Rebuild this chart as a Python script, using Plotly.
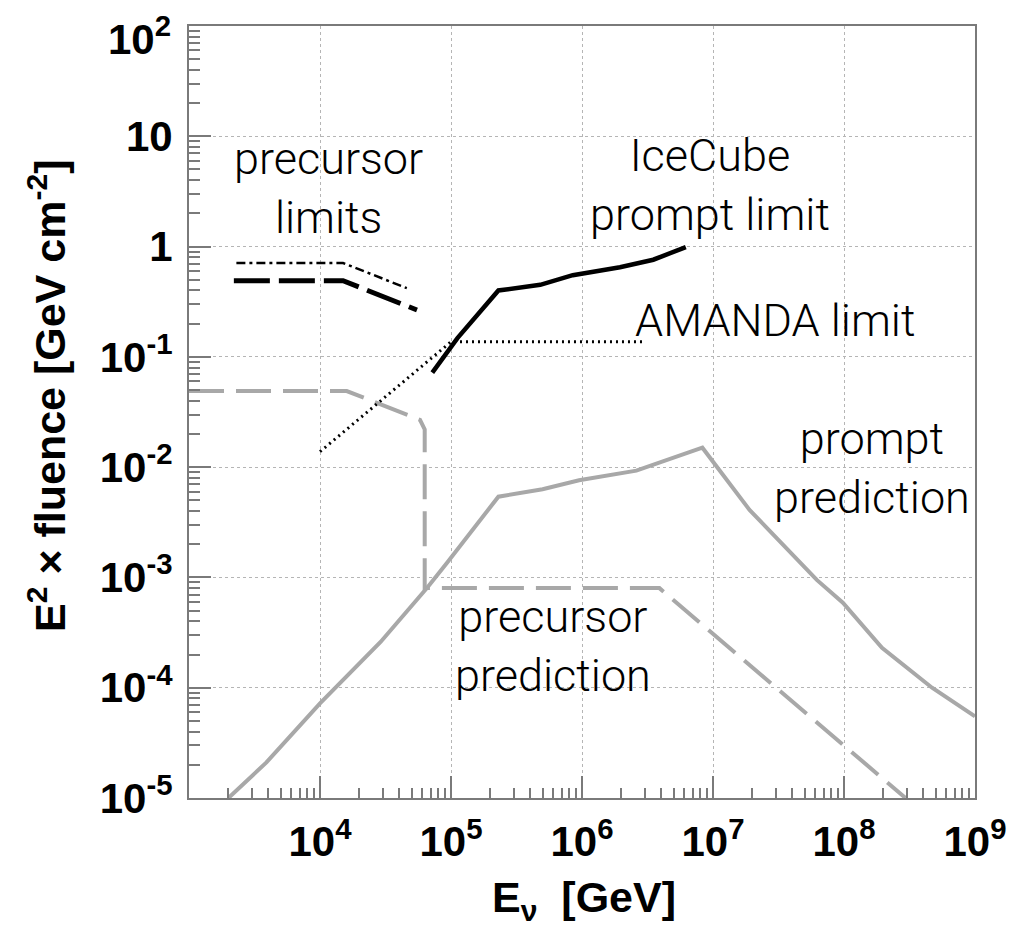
import plotly.graph_objects as go

# ---------------- data ----------------
prompt_pred_E = [2.0e3, 3.9e3, 1.0e4, 2.9e4, 6.6e4, 9.3e4, 2.3e5, 5.0e5, 9.5e5, 2.6e6,
                 8.3e6, 1.9e7, 6.2e7, 9.8e7, 1.95e8, 4.7e8, 1.0e9]
prompt_pred_F = [1.0e-5, 2.1e-5, 7.2e-5, 2.6e-4, 8.1e-4, 1.35e-3, 5.4e-3, 6.3e-3, 7.6e-3, 9.3e-3,
                 1.5e-2, 4.1e-3, 9.5e-4, 5.9e-4, 2.3e-4, 1.0e-4, 5.5e-5]

precursor_pred_E = [1.0e3, 1.6e4, 5.8e4, 6.3e4, 6.3e4, 3.9e6, 2.95e8]
precursor_pred_F = [0.049, 0.049, 0.0268, 0.022, 8.0e-4, 8.0e-4, 1.0e-5]

precursor_lim1_E = [2.2e3, 1.5e4, 5.5e4]
precursor_lim1_F = [0.49, 0.49, 0.266]

precursor_lim2_E = [2.3e3, 1.5e4, 4.6e4]
precursor_lim2_F = [0.71, 0.71, 0.42]

amanda_E = [1.0e4, 1.0e5, 3.0e6]
amanda_F = [0.0138, 0.137, 0.137]

icecube_E = [7.2e4, 1.12e5, 2.3e5, 4.8e5, 8.5e5, 1.95e6, 3.5e6, 6.2e6]
icecube_F = [0.072, 0.148, 0.40, 0.45, 0.55, 0.65, 0.76, 0.99]

x_tickvals = [1e4, 1e5, 1e6, 1e7, 1e8, 1e9]
x_ticktext = ["10<sup>4</sup>", "10<sup>5</sup>", "10<sup>6</sup>", "10<sup>7</sup>",
              "10<sup>8</sup>", "10<sup>9</sup>"]
y_tickvals = [1e-5, 1e-4, 1e-3, 1e-2, 1e-1, 1, 10, 100]
y_ticktext = ["10<sup>-5</sup>", "10<sup>-4</sup>", "10<sup>-3</sup>", "10<sup>-2</sup>",
              "10<sup>-1</sup>", "1", "10", "10<sup>2</sup>"]

x_minor = [m * 10 ** d for d in range(3, 9) for m in range(2, 10)]
y_minor = [m * 10.0 ** d for d in range(-5, 2) for m in range(2, 10)]

GRAY = "#a8a8a8"
AXC = "#7a7a7a"
LBL = dict(family="Liberation Sans, Arial, sans-serif", size=42, color="black", weight="bold")
ANN = dict(family="Roboto, Lato, sans-serif", size=45, color="black", weight=300)

fig = go.Figure()
fig.add_trace(go.Scatter(x=prompt_pred_E, y=prompt_pred_F, mode="lines",
                         line=dict(color=GRAY, width=4)))
fig.add_trace(go.Scatter(x=precursor_pred_E, y=precursor_pred_F, mode="lines",
                         line=dict(color=GRAY, width=4, dash="35px,12px")))
fig.add_trace(go.Scatter(x=precursor_lim2_E, y=precursor_lim2_F, mode="lines",
                         line=dict(color="black", width=2.5, dash="9px,4px,3px,4px")))
fig.add_trace(go.Scatter(x=precursor_lim1_E, y=precursor_lim1_F, mode="lines",
                         line=dict(color="black", width=5, dash="36px,9px")))
fig.add_trace(go.Scatter(x=amanda_E, y=amanda_F, mode="lines",
                         line=dict(color="black", width=3, dash="2px,4px")))
fig.add_trace(go.Scatter(x=icecube_E, y=icecube_F, mode="lines",
                         line=dict(color="black", width=4.5)))

axis_common = dict(
    type="log", showgrid=True, gridcolor="#b5b5b5", gridwidth=1, griddash="dot",
    showline=True, linecolor=AXC, linewidth=2, mirror=True,
    ticks="inside", ticklen=22, tickwidth=2, tickcolor=AXC,
    tickfont=LBL, zeroline=False, ticklabeloverflow="allow", automargin=False,
)

# the top y label (10^2) is drawn lower, as in the reference, via an annotation
y_axis_text = y_ticktext[:-1] + [""]

fig.update_xaxes(range=[3, 9], tickvals=x_tickvals, ticktext=x_ticktext,
                 minor=dict(tickvals=x_minor, ticks="inside", ticklen=10, tickwidth=2,
                            tickcolor=AXC, showgrid=False),
                 ticklabelstandoff=6, **axis_common)
fig.update_yaxes(range=[-5, 2], tickvals=y_tickvals, ticktext=y_axis_text,
                 minor=dict(tickvals=y_minor, ticks="inside", ticklen=11, tickwidth=2,
                            tickcolor=AXC, showgrid=False),
                 ticklabelstandoff=6, **axis_common)

L, R, T, B = 189, 975, 26, 798
W, H = R - L, B - T


def px(x):
    return (x - L) / W


def py(y):
    return (B - y) / H


fig.add_annotation(xref="paper", yref="paper", x=px(173), y=py(36),
                   xanchor="right", yanchor="middle", showarrow=False, font=LBL,
                   text=y_ticktext[-1])

annotations = [
    dict(text="precursor<br>limits", x=px(328), y=py(188)),
    dict(text="IceCube<br>prompt limit", x=px(710), y=py(185)),
    dict(text="AMANDA limit", x=px(775), y=py(320)),
    dict(text="prompt<br>prediction", x=px(872), y=py(468)),
    dict(text="precursor<br>prediction", x=px(553), y=py(646)),
]
for a in annotations:
    fig.add_annotation(xref="paper", yref="paper", xanchor="center", yanchor="middle",
                       showarrow=False, font=ANN, **a)

TITLE = dict(family="Liberation Sans, Arial, sans-serif", size=43, color="black", weight="bold")
fig.add_annotation(xref="paper", yref="paper", x=px(47), y=py(396), textangle=-90,
                   xanchor="center", yanchor="middle", showarrow=False, font=TITLE,
                   text="E<sup>2</sup> × fluence [GeV cm<sup>-2</sup>]")
fig.add_annotation(xref="paper", yref="paper", x=px(584), y=py(900),
                   xanchor="center", yanchor="middle", showarrow=False, font=TITLE,
                   text="E<sub>ν</sub>  [GeV]")

fig.update_layout(
    width=1032, height=931, autosize=False,
    margin=dict(l=L, r=1032 - R, t=T, b=931 - B),
    paper_bgcolor="white", plot_bgcolor="white",
    showlegend=False,
)

fig.write_html("out.html")
